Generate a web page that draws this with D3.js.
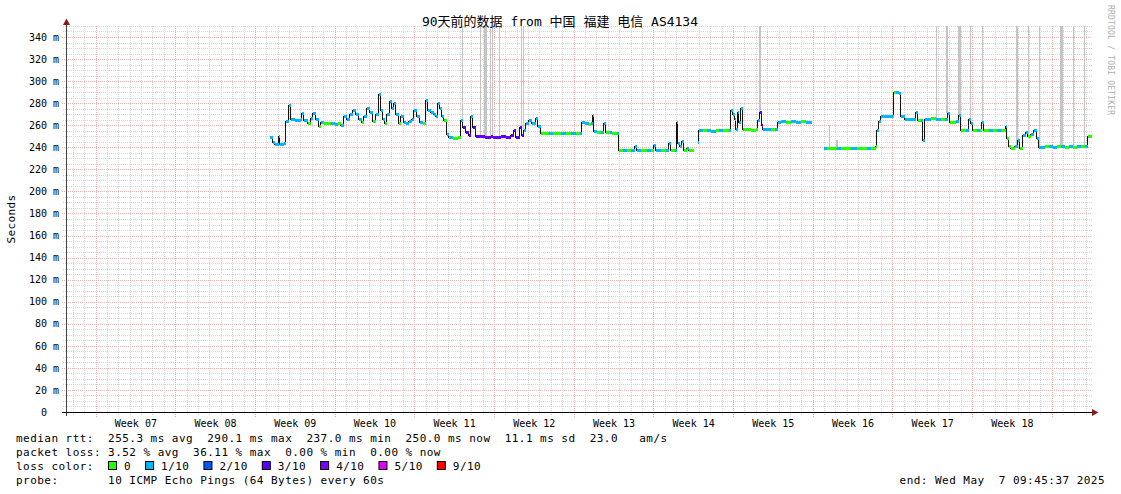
<!DOCTYPE html>
<html><head><meta charset="utf-8">
<script src="https://cdn.jsdelivr.net/npm/d3@7"></script>
<style>
body{margin:0;background:#fff;}
svg text{font-family:"DejaVu Sans Mono","Noto Sans CJK SC",monospace;white-space:pre;}
</style></head><body>
<svg id="c" width="1121" height="494"></svg>
<script>
const title = "90天前的数据 from 中国 福建 电信 AS4134";
const startTime = "2025-02-06T09:45:37Z";
const endTime = "2025-05-07T09:45:37Z";
const yTicks = [0,20,40,60,80,100,120,140,160,180,200,220,240,260,280,300,320,340];
const yMax = 350;

// median rtt samples: days since start, value (ms), lost pings out of 10
const days = [17.83,18.10,18.27,18.62,18.71,19.06,19.24,19.50,19.68,20.03,20.56,20.64,20.82,21.17,21.44,21.61,21.87,22.14,22.31,22.58,
23.19,23.54,23.81,24.07,24.33,24.60,24.86,25.13,25.39,25.65,25.92,26.09,26.36,26.62,26.88,27.15,27.41,27.58,27.76,27.94,
28.11,28.38,28.55,28.73,28.90,29.17,29.34,29.60,29.78,30.04,30.31,30.48,30.75,31.01,31.27,31.54,31.71,31.98,32.24,32.42,
32.59,32.77,32.94,33.12,33.38,33.56,33.91,34.35,34.61,34.79,35.05,35.32,35.49,35.67,35.93,36.55,36.72,37.25,37.42,38.13,
38.57,39.01,39.27,39.45,39.80,39.97,40.15,40.32,40.59,40.85,41.20,41.38,41.64,42.34,42.70,43.40,43.84,44.28,44.72,45.07,
45.24,45.51,45.86,46.03,46.21,46.30,46.56,46.91,47.18,47.35,47.70,47.88,48.32,48.49,48.84,49.20,49.55,49.90,50.07,50.43,
50.95,51.30,51.57,51.74,52.18,52.62,52.89,53.06,53.41,53.59,53.68,53.85,54.03,54.20,54.47,54.64,55.08,55.43,55.52,55.87,
56.22,56.58,57.01,57.28,57.63,58.16,58.33,58.51,58.68,58.77,58.95,59.04,59.21,59.39,59.47,60.09,60.53,60.70,60.88,61.06,
61.14,61.50,61.85,62.20,62.46,62.72,63.16,63.60,64.04,64.48,64.92,65.45,66.50,66.77,67.29,67.64,68.00,68.52,68.87,69.40,
69.75,70.28,70.63,71.07,71.16,71.33,71.51,71.86,72.21,72.56,72.65,72.83,73.09,73.27,73.62,73.97,74.32,74.58,74.76,75.02,
75.20,75.38,75.64,75.90,76.34,76.78,77.13,77.40,77.57,77.83,78.10,78.36,78.54,78.98,79.24,79.42,79.59,79.94,80.21,80.38,
80.56,81.00,81.35,81.70,82.05,82.49,82.58,82.75,82.93,83.28,83.55,83.72,83.98,84.25,84.42,84.69,84.95,85.21,85.39,85.65,
85.92,86.27,86.62,86.97,87.32,87.67,88.03,88.38,88.73,89.08,89.43,89.69];
const rtt = [249,245,243,250,243,244,264,278,266,265,266,271,265,262,267,271,266,259,263,262,
262,261,262,260,268,266,270,274,270,266,263,268,276,272,264,270,288,274,266,262,
270,282,276,280,270,262,268,263,262,264,266,274,268,263,262,283,274,272,270,268,
280,276,268,265,252,249,248,249,265,258,254,251,268,258,250,250,249,250,249,250,
249,251,256,249,258,251,256,262,265,262,267,259,253,253,253,253,253,253,253,253,
263,262,261,262,269,255,254,254,262,254,254,253,253,238,238,238,238,241,238,238,
238,238,242,238,238,238,244,238,238,263,244,241,246,238,239,238,null,245,256,256,
256,255,256,256,256,256,274,270,266,257,272,263,276,257,257,256,257,265,272,260,
257,257,257,257,263,264,263,264,263,264,263,null,239,239,239,239,239,239,239,239,
239,239,239,241,256,264,268,268,268,268,290,290,289,268,266,266,266,272,265,265,
247,266,266,267,266,266,266,271,263,263,264,269,256,256,266,262,256,256,256,263,
256,256,256,256,256,259,248,241,239,241,247,239,251,254,250,252,256,248,240,240,
241,241,240,241,241,240,241,240,241,241,241,250];
const loss = [1,1,1,1,1,1,1,1,1,1,1,1,1,0,1,1,1,0,1,0,
1,1,0,1,1,1,1,1,1,1,0,1,1,1,0,1,1,1,1,0,
1,1,1,1,1,0,1,1,1,1,1,1,1,1,0,1,1,1,1,1,
1,1,1,0,1,1,0,0,1,3,3,3,1,3,3,3,3,3,3,3,
3,3,3,3,3,3,1,1,1,1,1,1,0,1,0,1,0,1,0,1,
1,1,0,1,1,1,0,1,1,0,1,0,1,0,1,0,1,1,1,0,
1,0,1,1,0,1,1,0,1,1,1,1,1,0,1,0,0,1,1,0,
1,1,0,1,0,1,1,1,1,1,1,1,1,1,0,0,0,1,3,3,
1,1,0,1,1,1,0,1,1,0,1,0,1,0,0,1,0,0,1,0,
0,1,0,0,1,1,1,1,1,0,0,1,1,1,1,1,1,1,0,1,
1,1,1,0,1,0,1,1,0,0,1,1,0,1,1,1,0,1,0,1,
0,1,0,1,0,1,0,0,0,1,1,0,1,1,0,1,1,1,1,1,
0,1,1,0,1,0,1,0,1,0,1,0];

// smoke columns that run far above the median (days since start, width in days, top value ms)
const spikeDays = [34.79,36.41,36.81,37.29,37.47,38.04,40.02,40.19,60.97,67.06,67.71,76.49,77.42,78.45,79.48,80.47,83.52,84.54,85.50,87.41,88.49,89.46];
const spikeSpan = [0.09,0.09,0.26,0.09,0.09,0.09,0.09,0.09,0.18,0.09,0.18,0.09,0.18,0.26,0.09,0.09,0.18,0.09,0.09,0.26,0.09,0.09];
const spikeTop = [350,350,350,350,350,350,350,350,350,260,247,350,350,350,350,350,350,350,350,350,350,350];

const lossLevels = [0,1,2,3,4,5,9];
const lossLabels = ["0","1/10","2/10","3/10","4/10","5/10","9/10"];
const lossColors = ["#26ff00","#00b8ff","#0059ff","#5e00ff","#7e00ff","#dd00ff","#ff0000"];

const statLine1 = "median rtt:  255.3 ms avg  290.1 ms max  237.0 ms min  250.0 ms now  11.1 ms sd  23.0   am/s";
const statLine2 = "packet loss: 3.52 % avg  36.11 % max  0.00 % min  0.00 % now";
const lossTitle = "loss color:";
const probeLine = "probe:       10 ICMP Echo Pings (64 Bytes) every 60s";
const endLine = "end: Wed May  7 09:45:37 2025";
const yLabel = "Seconds";
const watermark = "RRDTOOL / TOBI OETIKER";

const svg = d3.select("#c");
const start = new Date(startTime), end = new Date(endTime);
const x = d3.scaleUtc().domain([start, end]).range([66, 1090.5]);
const y = d3.scaleLinear().domain([0, yMax]).range([412, 412 - yMax * 375 / 340]);
const toDate = d => new Date(+start + d * 864e5);
const px = v => Math.round(v) + 0.5;
const GX1 = 1092, GTOP = Math.round(y(yMax));

// grid
const g = svg.append("g").attr("shape-rendering", "crispEdges");
const minorY = d3.range(5, yMax + 1, 5).filter(v => v % 20 !== 0);
const minorCol = "#d6d6d6", majorCol = "#f2b0b0";
g.selectAll(".hmin").data(minorY).join("line")
  .attr("x1", 63).attr("x2", GX1).attr("y1", d => px(y(d))).attr("y2", d => px(y(d)))
  .attr("stroke", minorCol).attr("stroke-dasharray", "1,1");
const dayLines = d3.utcDay.range(d3.utcDay.ceil(start), end).filter(d => d.getUTCDay() !== 0);
g.selectAll(".vmin").data(dayLines).join("line")
  .attr("x1", d => px(x(d))).attr("x2", d => px(x(d))).attr("y1", GTOP).attr("y2", 415)
  .attr("stroke", minorCol).attr("stroke-dasharray", "1,1");
g.selectAll(".hmaj").data(yTicks.filter(v => v > 0)).join("line")
  .attr("x1", 62).attr("x2", GX1).attr("y1", d => px(y(d))).attr("y2", d => px(y(d)))
  .attr("stroke", majorCol).attr("stroke-dasharray", "1,1");
const weekLines = d3.utcSunday.range(start, end);
g.selectAll(".vmaj").data(weekLines).join("line")
  .attr("x1", d => px(x(d))).attr("x2", d => px(x(d))).attr("y1", GTOP).attr("y2", 417)
  .attr("stroke", majorCol).attr("stroke-dasharray", "1,1");

// smoke spikes
const pts = days.map((d, i) => ({t: toDate(d), v: rtt[i], l: loss[i]}));
const bis = d3.bisector(p => p.t).right;
const medianAt = t => { const i = bis(pts, t) - 1; return i >= 0 && pts[i].v != null ? pts[i].v : 240; };
svg.append("g").attr("shape-rendering", "crispEdges").selectAll("rect")
  .data(spikeDays.map((d, i) => ({d, s: spikeSpan[i], top: spikeTop[i]})))
  .join("rect")
  .attr("x", d => Math.round(x(toDate(d.d - d.s / 2))))
  .attr("width", d => Math.max(1, Math.round(x(toDate(d.d + d.s / 2)) - x(toDate(d.d - d.s / 2)))))
  .attr("y", d => Math.round(y(d.top)))
  .attr("height", d => Math.max(0, Math.round(y(medianAt(toDate(d.d))) - y(d.top))))
  .attr("fill", "#c4c4c4");

// median: black connecting path + loss coloured steps
const segs = [];
pts.forEach((p, i) => {
  if (p.v == null) return;
  const t2 = i + 1 < pts.length ? pts[i + 1].t : end;
  segs.push({x1: Math.round(x(p.t)), x2: Math.round(x(t2)), y: Math.round(y(p.v)), l: p.l,
             brk: i + 1 >= pts.length || pts[i + 1].v == null});
});
const path = d3.path();
let open = false;
segs.forEach(s => {
  if (!open) { path.moveTo(s.x1 + 0.5, s.y + 0.5); open = true; } else path.lineTo(s.x1 + 0.5, s.y + 0.5);
  path.lineTo(s.x2 + 0.5, s.y + 0.5);
  if (s.brk) open = false;
});
svg.append("path").attr("d", path.toString()).attr("fill", "none").attr("stroke", "#111").attr("stroke-width", 1)
  .attr("shape-rendering", "crispEdges");
svg.append("g").attr("shape-rendering", "crispEdges").selectAll("rect").data(segs).join("rect")
  .attr("x", d => d.x1 + 1).attr("width", d => Math.max(1, d.x2 - d.x1))
  .attr("y", d => d.y - 1).attr("height", 3)
  .attr("fill", d => lossColors[lossLevels.indexOf(d.l)]);

// axes lines + arrows
const arrowCol = "#8b1a1a";
svg.append("line").attr("x1", 66.5).attr("x2", 66.5).attr("y1", 416).attr("y2", 24).attr("stroke", "#444").attr("shape-rendering", "crispEdges");
svg.append("line").attr("x1", 62).attr("x2", 1093).attr("y1", 412.5).attr("y2", 412.5).attr("stroke", "#000").attr("shape-rendering", "crispEdges");
svg.append("path").attr("d", "M66.5,18.5 L63,25 L70,25 Z").attr("fill", arrowCol);
svg.append("path").attr("d", "M1098.5,412.5 L1092,409 L1092,416 Z").attr("fill", arrowCol);

// y axis labels
const yAxis = d3.axisLeft(y).tickValues(yTicks).tickSize(0).tickPadding(7)
  .tickFormat(v => v === 0 ? "0" : v + " m");
const ya = svg.append("g").attr("transform", "translate(66,0)").call(yAxis);
ya.select(".domain").remove();
ya.selectAll("text").attr("font-size", 10).attr("fill", "#000").attr("font-family", "DejaVu Sans Mono")
  .attr("dx", v => v === 0 ? -12 : 0);

// x axis week labels
const weekMid = weekLines.map(d => d3.utcHour.offset(d, 84)).filter(d => d < end);
const xAxis = d3.axisBottom(x).tickValues(weekMid).tickSize(0).tickPadding(8).tickFormat(d3.utcFormat("Week %V"));
const xa = svg.append("g").attr("transform", "translate(0,412)").call(xAxis);
xa.select(".domain").remove();
xa.selectAll("text").attr("font-size", 10).attr("fill", "#000").attr("font-family", "DejaVu Sans Mono");

// title
svg.append("text").attr("x", 560).attr("y", 25.5).attr("text-anchor", "middle")
  .attr("font-size", 13).attr("fill", "#000").text(title);
// y label
svg.append("text").attr("transform", "translate(14.5,219) rotate(-90)").attr("text-anchor", "middle")
  .attr("font-size", 11).attr("letter-spacing", 0.4).attr("fill", "#000").text(yLabel);
// watermark
svg.append("text").attr("transform", "translate(1108,5) rotate(90)")
  .attr("font-size", 8).attr("fill", "#b0b0b0").attr("letter-spacing", 0.2).text(watermark);

// legend
const lf = {size: 11, ls: 0.46};
const leg = (txt, xx, yy, anchor) => svg.append("text").attr("x", xx).attr("y", yy)
  .attr("text-anchor", anchor || "start").attr("font-size", lf.size).attr("letter-spacing", lf.ls)
  .attr("fill", "#000").text(txt);
leg(statLine1, 16, 442);
leg(statLine2, 16, 456);
leg(lossTitle, 16, 470);
leg(probeLine, 16, 484);
leg(endLine, 1105, 484, "end");
let cx = 108;
lossLabels.forEach((lab, i) => {
  svg.append("rect").attr("x", cx + 0.5).attr("y", 461.5).attr("width", 8).attr("height", 8)
    .attr("fill", lossColors[i]).attr("stroke", "#000").attr("stroke-width", 1);
  const t = leg(lab, cx + 16, 470);
  cx = cx + 16 + t.node().getComputedTextLength() + 14;
});
</script>
</body></html>
